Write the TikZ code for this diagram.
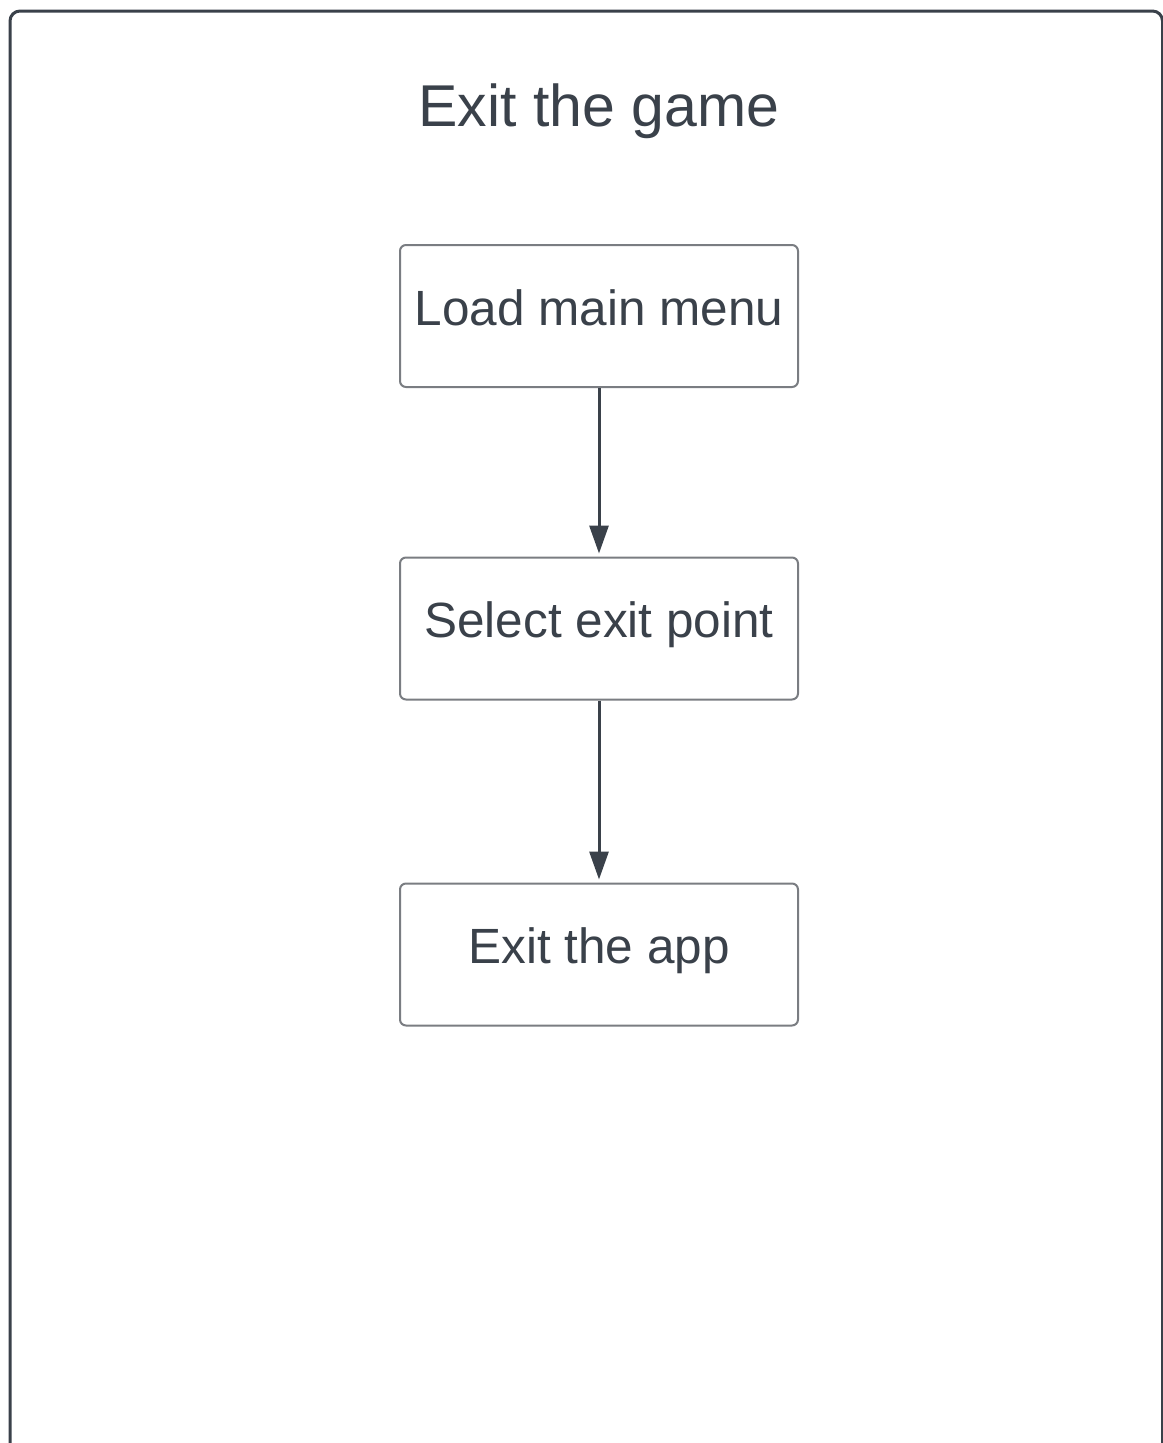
\documentclass[tikz,border=0pt]{standalone}
\usepackage{fontspec}
\setmainfont{Liberation Sans}
\usetikzlibrary{arrows.meta}
\definecolor{ink}{HTML}{3A414A}
\definecolor{boxline}{HTML}{7A7D82}
\tikzset{
  stepbox/.style={draw=boxline, line width=2pt, rounded corners=6pt, minimum width=398pt, minimum height=142pt, inner sep=0pt,
    text=ink, font=\fontsize{49.5}{59}\selectfont, text height=36pt, text depth=18pt},
  flow/.style={draw=ink, line width=3pt, -{Triangle[length=28pt,width=19pt]}, shorten >=3pt},
}
\begin{document}
\begin{tikzpicture}[x=1pt,y=-1pt]
\useasboundingbox (0,0) rectangle (1162,1443);
\fill[white] (0,0) rectangle (1162,1443);
\draw[ink, line width=3pt, rounded corners=10pt] (10,1480) -- (10,11) -- (1162.5,11) -- (1162.5,1480);
\node[text=ink, font=\fontsize{59}{70}\selectfont, anchor=base] (title) at (599,126) {Exit the game};
\node[stepbox] (load) at (599,316) {Load main menu};
\node[stepbox] (select) at (599,628.5) {Select exit point};
\node[stepbox] (exit) at (599,954.5) {Exit the app};
\draw[flow] (load) -- (select);
\draw[flow] (select) -- (exit);
\end{tikzpicture}
\end{document}
